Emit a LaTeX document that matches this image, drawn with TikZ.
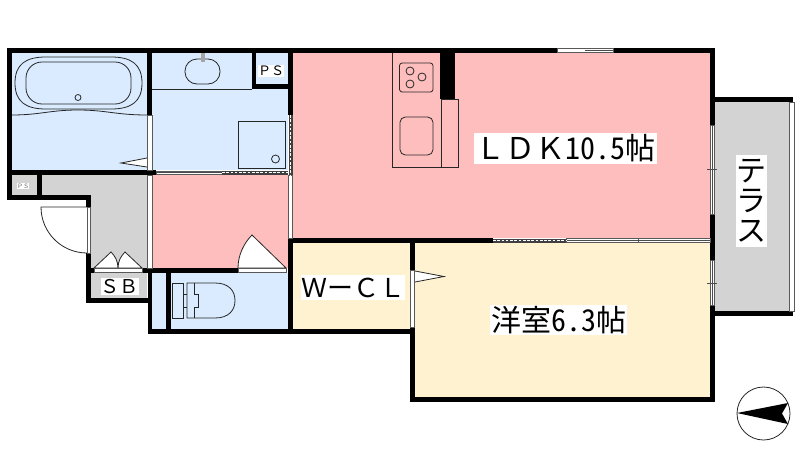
\documentclass[tikz,border=0pt]{standalone}
\usepackage{fontspec}
\newfontfamily\cjk{Noto Sans CJK JP}
\newfontfamily\cjkhw[RawFeature=+hwid]{Noto Sans CJK JP}
\definecolor{bluefloor}{HTML}{DAEBFF}
\definecolor{pinkfloor}{HTML}{FFBEBE}
\definecolor{creamfloor}{HTML}{FFF2D0}
\definecolor{grayfloor}{HTML}{D3D3D3}
\newcommand{\jpsize}[1]{\fontsize{#1}{#1}\selectfont}
\tikzset{
    fixture/.style={draw=black!85, line width=0.6pt},
    leaf/.style={draw=black!85, line width=0.6pt, fill=white},
    sash/.style={draw=black!65, line width=0.6pt, fill=white},
    roomtext/.style={fill=white, inner sep=0pt, text=black, font=\cjk\jpsize{#1}}
}
\begin{document}
\begin{tikzpicture}[x=0.75pt, y=-0.75pt]
    \useasboundingbox (0,0) rectangle (800,450);

    % Room floors
    \fill[bluefloor] (12,53) rectangle (147,170);
    \fill[bluefloor] (152,53) rectangle (288,170);
    \fill[bluefloor] (171,273) rectangle (288,329);
    \fill[bluefloor] (152,273) rectangle (166,329);
    \fill[pinkfloor] (152,175) rectangle (288,268);
    \fill[pinkfloor] (293,53) rectangle (710,238);
    \fill[creamfloor] (293,243) rectangle (410,329);
    \fill[creamfloor] (415,243) rectangle (710,397);
    \fill[grayfloor] (12,175) rectangle (147,195);
    \fill[grayfloor] (91,195) rectangle (147,268);
    \fill[grayfloor] (91,273) rectangle (147,298);
    \fill[grayfloor] (715,102) rectangle (789,311);

    % Bath
    \draw[fixture] (15,83) .. controls (15,64) and (26,57) .. (46,57) -- (111,57) .. controls (131,57) and (142,64) .. (142,83) .. controls (142,102) and (131,109) .. (111,109) -- (46,109) .. controls (26,109) and (15,102) .. (15,83) -- cycle;
    \draw[fixture, rounded corners=12pt] (26,62) rectangle (131,104);
    \draw[fixture] (78,97.5) circle (3);
    \draw[fixture] (12,115) .. controls (40,115) and (50,110) .. (78,110) .. controls (106,110) and (116,115) .. (147,115);

    % Wash basin and washer pan
    \draw[fixture] (152,89) -- (252,89);
    \draw[fixture, rounded corners=9pt] (185,59) rectangle (220,84);
    \fill[black!35] (201,53) rectangle (204.5,62);
    \draw[fixture] (238,121) rectangle (285,168);
    \draw[fixture] (275.5,159) circle (4);

    % Kitchen
    \draw[fixture] (392,53) -- (392,167) -- (458,167) -- (458,99) -- (441,99);
    \draw[fixture] (441,99) -- (441,167);
    \draw[fixture, rounded corners=2pt] (399.5,63) rectangle (433,92);
    \foreach \x/\y in {410/71, 422/77, 410/84} {
        \draw[fixture] (\x,\y) circle (4);
    }
    \draw[fixture, rounded corners=4pt] (400,117) rectangle (433,155);

    % Toilet
    \draw[fixture] (172,283) rectangle (183,318);
    \draw[fixture] (183,294) -- (187,294);
    \draw[fixture] (183,307) -- (187,307);
    \draw[fixture] (194,283) -- (194,294) -- (198,294) -- (198,307) -- (194,307) -- (194,318);
    \draw[fixture] (215,283) -- (187,283) -- (187,318) -- (215,318) .. controls (229,318) and (235,310) .. (235,300.5) .. controls (235,291) and (229,283) .. (215,283);

    % Door leaves
    \draw[leaf] (87,207) -- (41,207) arc[start angle=180, end angle=90, radius=46];
    \draw[leaf] (147,158) -- (121,163) -- (147,167);
    \draw[leaf] (415,271) -- (444,276.5) -- (415,282);
    \draw[leaf] (238,268) .. controls (238,255) and (244,243) .. (252,235) -- (286,268) -- cycle;
    \draw[leaf] (94,268) -- (111,252) .. controls (115,256) and (118,261) .. (118,268) .. controls (118,261) and (121,256) .. (125,252) -- (142,268) -- cycle;

    % Walls
    \foreach \xa/\ya/\xb/\yb in {7/48/715/53, 7/48/12/200, 7/170/156/175, 147/48/152/115,
        37/175/42/200, 7/195/91/200, 86/195/91/207, 86/253/91/303, 86/298/152/303,
        86/268/94/273, 142/268/238/273, 148/268/152/334, 166/273/171/329, 148/329/415/334,
        252/53/256/89, 252/84/293/89, 288/48/293/115, 288/238/293/334, 288/238/493/243,
        410/243/415/270, 410/327/415/402, 410/397/715/402, 710/48/715/125, 710/214/715/260,
        710/305/715/402, 715/97/793/102, 715/311/793/316, 440/53/455/99} {
        \fill[black] (\xa,\ya) rectangle (\xb,\yb);
    }

    % Sliding doors and windows
    \foreach \xa/\ya/\xb/\yb in {147.5/115/152/170, 147.5/175/152/268, 87/207/90.5/253,
        94/268.5/142/272, 238/268.5/286/272, 410.5/270/414.5/327, 557/48.5/613/52.5,
        710.5/125/714.5/214, 710.5/260/714.5/305, 566/238.5/638/242.5, 638/238.5/710/242.5,
        789/102/794/311, 156/171/222/174.5, 288.5/175/292.5/238} {
        \draw[sash] (\xa,\ya) rectangle (\xb,\yb);
    }
    \draw[black!70, line width=0.9pt] (585,50.5) -- (613,50.5);
    \draw[black!70, line width=0.9pt] (156,172.7) -- (222,172.7);
    \draw[black!70, line width=0.9pt] (566,240.5) -- (710,240.5);
    \draw[black!70, line width=0.9pt] (712.5,125) -- (712.5,214);
    \draw[black!70, line width=0.9pt] (712.5,260) -- (712.5,305);
    \draw[black!70, line width=0.6pt] (707,169) -- (717,169);
    \draw[black!70, line width=0.6pt] (707,283) -- (717,283);
    % Dashed sashes
    \foreach \xa/\ya/\xb/\yb in {222/171/288/174.5, 493/238.5/566/242.5} {
        \fill[black!75] (\xa,\ya) rectangle (\xb,\yb);
        \draw[white, line width=1pt, dash pattern=on 2pt off 1.2pt] (\xa,\ya/2+\yb/2) -- (\xb,\ya/2+\yb/2);
    }
    \fill[black!75] (288.5,115) rectangle (292.5,175);
    \draw[white, line width=1pt, dash pattern=on 2pt off 1.2pt] (290.5,115) -- (290.5,175);

    % Room labels
    \node[roomtext=22.5pt, minimum width=137.5pt, minimum height=23.5pt] (ldk) at (565.5,148.5) {ＬＤＫ{\cjkhw 10.5}帖};
    \node[roomtext=22.5pt, minimum width=103pt, minimum height=22.5pt] (yoshitsu) at (558.5,320) {洋室{\cjkhw 6.3}帖};
    \node[roomtext=22.5pt, minimum width=23pt, minimum height=69pt, align=center] (terrace) at (751.5,201) {テ\\ラ\\ス};
    \node[roomtext=19.5pt, minimum width=73pt, minimum height=18.7pt] (wcl) at (353,287.5) {ＷーＣＬ};
    \node[roomtext=14.25pt, minimum width=28pt, minimum height=12.7pt] (sb) at (119.5,286.5) {ＳＢ};
    \node[roomtext=9.75pt, minimum width=18pt, minimum height=9pt] (ps) at (271,71) {ＰＳ};
    \node[roomtext=4.5pt, text=black!60, minimum width=9pt, minimum height=4.5pt] (pssmall) at (23,186) {ＰＳ};

    % Compass
    \draw[fixture, fill=white] (763.5,413.5) circle (26.5);
    \fill[black] (737,413) -- (788,403) -- (782,413.5) -- (788,424) -- cycle;
\end{tikzpicture}
\end{document}
